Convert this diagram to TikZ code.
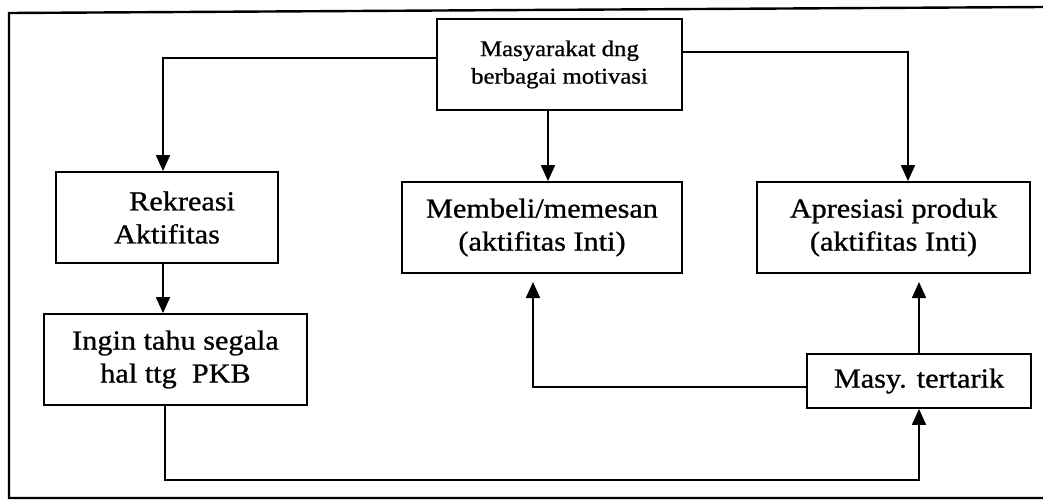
\documentclass[tikz,border=0pt]{standalone}
\usepackage{fontspec}
\setmainfont{Liberation Serif}[FakeStretch=1.1,FakeBold=0.9]
\usetikzlibrary{arrows.meta}
\newcommand{\mainsz}{\fontsize{27.5}{33}\selectfont}
\newcommand{\topsz}{\fontsize{22.5}{27.5}\selectfont}
\tikzset{
  box/.style={draw, line width=1.8pt, inner sep=0pt, align=center, font=\mainsz, rectangle},
  arr/.style={line width=1.8pt, -{Triangle[width=14pt,length=16pt]}},
  frame/.style={line width=2.4pt}
}
\begin{document}
\begin{tikzpicture}[x=1pt,y=-1pt]
\useasboundingbox (0,0) rectangle (1043,501);
% outer frame (right side outside the picture)
\draw[frame] (1043,7) -- (9,13) -- (9,498) -- (1043,498);

% boxes
\node[box, font=\topsz, minimum width=245pt, minimum height=91pt] (top) at (559.5,64.5) {Masyarakat dng\\berbagai motivasi};
\node[box, minimum width=222pt, minimum height=91pt] (rek) at (167,217.5) {\hspace*{1.1em}Rekreasi\\Aktifitas};
\node[box, minimum width=280pt, minimum height=91pt] (mem) at (542,227.5) {Membeli/memesan\\(aktifitas Inti)};
\node[box, minimum width=273pt, minimum height=91pt] (apr) at (893.5,227.5) {Apresiasi produk\\(aktifitas Inti)};
\node[box, minimum width=263pt, minimum height=91pt] (ing) at (175.5,359.5) {Ingin tahu segala\\hal ttg\ \ PKB};
\node[box, minimum width=224pt, minimum height=54pt] (tar) at (919,381) {Masy. tertarik};

% helper coordinates
\coordinate (c1) at (163,58);
\coordinate (c2) at (908,52);
\coordinate (c3) at (548,0);
\coordinate (c4) at (165,480);
\coordinate (c5) at (533,387);
\coordinate (e1) at (533,282);
\coordinate (e2) at (919,282);

% connectors
\draw[arr] (top.west |- c1) -| (c1 |- rek.north);
\draw[arr] (top.east |- c2) -| (c2 |- apr.north);
\draw[arr] (c3 |- top.south) -- (c3 |- mem.north);
\draw[arr] (c1 |- rek.south) -- (c1 |- ing.north);
\draw[arr] (c4 |- ing.south) -- (c4) -| (tar.south);
\draw[arr] (tar.west |- c5) -| (e1);
\draw[arr] (tar.north) -- (e2);
\end{tikzpicture}
\end{document}
